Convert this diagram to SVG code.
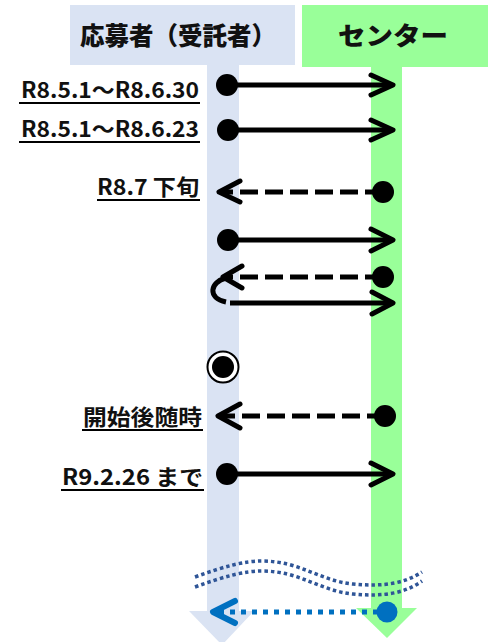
<svg xmlns="http://www.w3.org/2000/svg" width="489" height="642" viewBox="0 0 489 642">
<style>
.hdr{font-family:"Noto Sans CJK JP","Noto Sans",sans-serif;font-weight:900;font-size:25px;fill:#111}
.lbl{font-family:"Noto Sans CJK JP","Noto Sans",sans-serif;font-weight:bold;font-size:22px;fill:#111}
.ul{stroke:#000;stroke-width:2}
.ln{stroke:#000;stroke-width:5;fill:none}
.dash{stroke-dasharray:18 7}
.head{stroke:#000;stroke-width:5;fill:none;stroke-linecap:round;stroke-linejoin:round}
.dot{fill:#000}
.wave{stroke:#2F5597;stroke-width:3.5;fill:none;stroke-dasharray:3.5 3}
.blu{stroke:#0070C0;fill:none}
</style>
<rect width="489" height="642" fill="#fff"/>
<g id="applicant">
  <rect x="70" y="5" width="225" height="60" fill="#DAE3F3"/>
  <rect x="207" y="65" width="32" height="547" fill="#DAE3F3"/>
  <polygon points="189,611 254,611 222,645" fill="#DAE3F3"/>
  <text class="hdr" x="80" y="45" textLength="196" lengthAdjust="spacingAndGlyphs">応募者（受託者）</text>
</g>
<g id="center">
  <rect x="302" y="5" width="186" height="62" fill="#99FF99"/>
  <rect x="371" y="67" width="31" height="542" fill="#99FF99"/>
  <polygon points="356,608 417,608 387,638" fill="#99FF99"/>
  <text class="hdr" x="338" y="45" textLength="110" lengthAdjust="spacingAndGlyphs">センター</text>
</g>
<g id="separator">
  <path class="wave" d="M195,577 C225,566 245,561 262,561 C300,561 320,581 353,584 C385,587 405,583 422,572"/>
  <path class="wave" d="M195,587 C225,576 245,571 262,571 C300,571 320,591 353,594 C385,597 405,593 422,581"/>
</g>
<g id="labels">
  <text class="lbl" x="199" y="98" text-anchor="end" textLength="178" lengthAdjust="spacingAndGlyphs">R8.5.1～R8.6.30</text>
  <line class="ul" x1="19" y1="103" x2="200" y2="103"/>
  <text class="lbl" x="199" y="137" text-anchor="end" textLength="178" lengthAdjust="spacingAndGlyphs">R8.5.1～R8.6.23</text>
  <line class="ul" x1="19" y1="142" x2="200" y2="142"/>
  <text class="lbl" x="199" y="195" text-anchor="end" textLength="102" lengthAdjust="spacingAndGlyphs">R8.7 下旬</text>
  <line class="ul" x1="97" y1="200" x2="200" y2="200"/>
  <text class="lbl" x="202" y="425" text-anchor="end" textLength="119" lengthAdjust="spacingAndGlyphs">開始後随時</text>
  <line class="ul" x1="82" y1="430" x2="203" y2="430"/>
  <text class="lbl" x="203" y="485" text-anchor="end" textLength="141" lengthAdjust="spacingAndGlyphs">R9.2.26 まで</text>
  <line class="ul" x1="61" y1="490" x2="204" y2="490"/>
</g>
<g id="connectors">
  <circle class="dot" cx="227" cy="85" r="11"/>
  <line class="ln" x1="227" y1="85" x2="391" y2="85"/>
  <polyline class="head" points="371,75 393,85 371,95"/>
  <circle class="dot" cx="228" cy="130" r="11"/>
  <line class="ln" x1="228" y1="130" x2="391" y2="130"/>
  <polyline class="head" points="371,120 393,130 371,140"/>
  <circle class="dot" cx="383" cy="192" r="11"/>
  <line class="ln dash" x1="383" y1="192" x2="221" y2="192"/>
  <polyline class="head" points="240,181 219,192 240,202"/>
  <circle class="dot" cx="228" cy="240" r="11"/>
  <line class="ln" x1="228" y1="240" x2="391" y2="240"/>
  <polyline class="head" points="371,229 393,240 371,251"/>
  <circle class="dot" cx="383" cy="277" r="11"/>
  <line class="ln dash" x1="383" y1="277" x2="226" y2="277"/>
  <polyline class="head" points="242,266 223,277 242,288"/>
  <path class="ln" d="M226,278 C210,282 207,298 226,302"/>
  <line class="ln" x1="230" y1="303" x2="391" y2="303"/>
  <polyline class="head" points="372,292 393,303 372,314"/>
  <circle cx="223" cy="367" r="15.5" fill="#fff" stroke="#000" stroke-width="2"/>
  <circle class="dot" cx="223" cy="367" r="11"/>
  <circle class="dot" cx="385" cy="416" r="11"/>
  <line class="ln dash" x1="385" y1="416" x2="220" y2="416"/>
  <polyline class="head" points="240,404 218,416 240,428"/>
  <circle class="dot" cx="227" cy="474" r="11"/>
  <line class="ln" x1="227" y1="474" x2="391" y2="474"/>
  <polyline class="head" points="371,463 393,474 371,485"/>
  <line class="blu" stroke-width="5" stroke-dasharray="5 6" x1="378" y1="612" x2="214" y2="612"/>
  <polyline class="blu" stroke-width="6" stroke-linecap="round" stroke-linejoin="round" points="235,601 213,612 235,623"/>
  <circle cx="387" cy="612" r="10.5" fill="#0070C0"/>
</g>
</svg>
